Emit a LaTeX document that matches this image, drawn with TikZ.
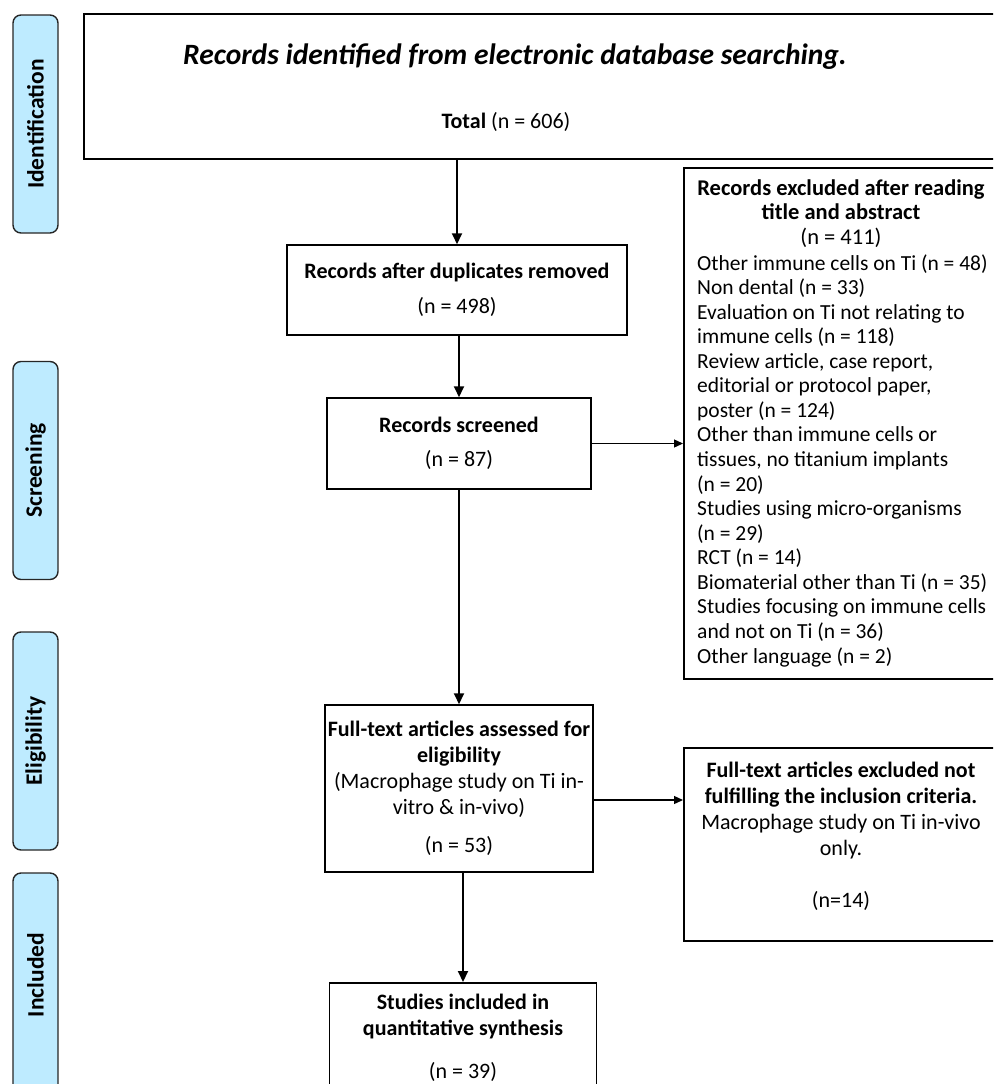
\documentclass[tikz,border=0pt]{standalone}
\usepackage{fontspec}
\setmainfont{Carlito}
\usetikzlibrary{arrows.meta,positioning,calc}
\definecolor{stagefill}{RGB}{190,235,255}
\tikzset{
  stagebox/.style={draw=black!85, fill=stagefill, rounded corners=8pt, line width=1.4pt, rotate=90, minimum width=218pt, minimum height=45pt, inner sep=0pt, font=\fontsize{23.5}{26}\selectfont\bfseries},
  flowbox/.style={draw, line width=1.5pt, align=center, inner sep=0pt, font=\fontsize{22}{26}\selectfont},
  flowtext/.style={inner sep=0pt, font=\fontsize{22}{26}\selectfont},
  listtext/.style={inner sep=0pt, font=\fontsize{21.5}{24.56}\selectfont},
  flowarrow/.style={-{Triangle[length=11pt,width=10pt]}, line width=1.9pt},
  sidearrow/.style={-{Triangle[length=9pt,width=8pt]}, line width=1.3pt}
}
\begin{document}
\begin{tikzpicture}[x=1pt,y=-1pt]
\clip (0,0) rectangle (993,1084);
% stage labels
\node[stagebox] (identlbl) at (35.5,124) {Identification};
\node[stagebox] (screenlbl) at (35.5,470.5) {Screening};
\node[stagebox] (eliglbl) at (35.5,741) {Eligibility};
\node[stagebox, minimum width=222pt] (incllbl) at (35.5,984) {\hspace*{18pt}Included};
% identification
\node[flowbox, minimum width=930pt, minimum height=145pt, anchor=north west] (ident) at (83,13) {};
\node[flowtext, font=\fontsize{29.5}{32}\selectfont\bfseries\itshape] (identtitle) at (515,57) {Records identified from electronic database searching.};
\node[flowtext] (identtotal) at (506,122) {\textbf{Total} (n = 606)};
% screening
\node[flowbox, minimum width=340pt, minimum height=90pt] (dup) at (457,290) {\textbf{Records after duplicates removed}\\[9pt](n = 498)};
\node[flowbox, minimum width=264pt, minimum height=91pt] (screen) at (459,443.5) {\textbf{Records screened}\\[8pt](n = 87)};
\node[flowbox, minimum width=316pt, minimum height=511pt, anchor=north west] (excl1) at (683,167) {};
\node[listtext, align=center, font=\fontsize{22.5}{24.56}\selectfont] (excl1head) at (841,213.5) {\textbf{Records excluded after reading}\\\textbf{title and abstract}\\(n = 411)};
\node[listtext, align=left, anchor=west] (excl1list) at (697,460.5) {Other immune cells on Ti (n = 48)\\
  Non dental (n = 33)\\
  Evaluation on Ti not relating to\\
  immune cells (n = 118)\\
  Review article, case report,\\
  editorial or protocol paper,\\
  poster (n = 124)\\
  Other than immune cells or\\
  tissues, no titanium implants\\
  (n = 20)\\
  Studies using micro-organisms\\
  (n = 29)\\
  RCT (n = 14)\\
  Biomaterial other than Ti (n = 35)\\
  Studies focusing on immune cells\\
  and not on Ti (n = 36)\\
  Other language (n = 2)};
% eligibility
\node[flowbox, minimum width=268pt, minimum height=167pt] (elig) at (459,788.5) {\textbf{Full-text articles assessed for}\\\textbf{eligibility}\\(Macrophage study on Ti in-\\vitro \& in-vivo)\\[12pt](n = 53)};
\node[flowbox, minimum width=316pt, minimum height=193pt, anchor=north west] (excl2) at (683,747) {};
\node[flowtext, align=center] (excl2text) at (841,836.5) {\textbf{Full-text articles excluded not}\\\textbf{fulfilling the inclusion criteria.}\\Macrophage study on Ti in-vivo\\only.\\[26pt](n=14)};
% included
\node[flowbox, minimum width=267pt, minimum height=110pt, anchor=north] (incl) at (463,982) {\textbf{Studies included in}\\\textbf{quantitative synthesis}\\[17pt](n = 39)};
% connectors
\draw[flowarrow] (dup.north |- ident.south) -- (dup.north);
\draw[flowarrow] (screen.north |- dup.south) -- (screen.north);
\draw[sidearrow] (screen.east) -- (screen.east -| excl1.west);
\draw[flowarrow] (screen.south) -- (elig.north);
\draw[sidearrow] ([yshift=-11.5pt]elig.east) -- ([yshift=-11.5pt]elig.east -| excl2.west);
\draw[flowarrow] (incl.north |- elig.south) -- (incl.north);
\end{tikzpicture}
\end{document}
